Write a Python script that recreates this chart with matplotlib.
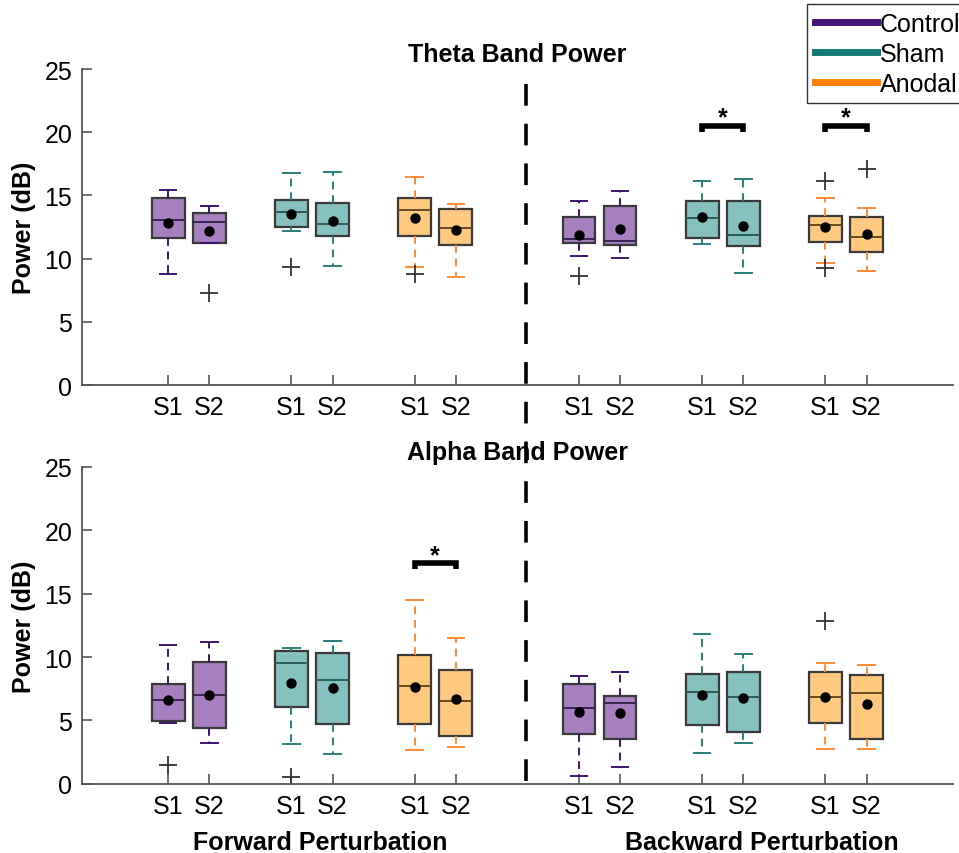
import matplotlib
matplotlib.use('Agg')
import matplotlib.pyplot as plt
from matplotlib.lines import Line2D
from matplotlib.transforms import blended_transform_factory

plt.rcParams['font.family'] = ['Liberation Sans', 'DejaVu Sans']

# box order: Forward (Control S1,S2, Sham S1,S2, Anodal S1,S2), then Backward same
positions = [1, 2, 4, 5, 7, 8, 11, 12, 14, 15, 17, 18]
tick_labels = ['S1', 'S2'] * 6
groups = ['Control', 'Sham', 'Anodal']

# Theta band power (dB)
theta_whishi = [15.46, 14.2, 16.75, 16.88, 16.43, 14.3, 14.54, 15.32, 16.17, 16.32, 14.8, 13.99]
theta_q3 = [14.8, 13.64, 14.64, 14.38, 14.77, 13.93, 13.3, 14.14, 14.54, 14.56, 13.35, 13.28]
theta_med = [13.09, 12.9, 13.7, 12.72, 13.83, 12.42, 11.57, 11.38, 13.25, 11.88, 12.67, 11.7]
theta_q1 = [11.65, 11.25, 12.51, 11.8, 11.78, 11.04, 11.22, 11.07, 11.67, 10.99, 11.33, 10.54]
theta_whislo = [8.8, 11.2, 12.2, 9.39, 9.3, 8.54, 10.17, 10.04, 11.12, 8.88, 9.67, 9.02]
theta_mean = [12.83, 12.22, 13.5, 13.0, 13.2, 12.27, 11.85, 12.33, 13.3, 12.62, 12.49, 11.96]
theta_fliers = [[], [7.31], [9.33], [], [8.78], [], [8.62], [], [], [], [16.17, 9.28], [17.06]]

# Alpha band power (dB)
alpha_whishi = [10.95, 11.2, 10.69, 11.3, 14.52, 11.53, 8.47, 8.81, 11.85, 10.24, 9.5, 9.39]
alpha_q3 = [7.91, 9.6, 10.45, 10.32, 10.19, 9.0, 7.91, 6.93, 8.68, 8.84, 8.81, 8.55]
alpha_med = [6.64, 7.04, 9.5, 8.23, 7.72, 6.56, 6.01, 6.4, 7.28, 6.88, 6.88, 7.14]
alpha_q1 = [4.92, 4.39, 6.08, 4.71, 4.76, 3.76, 3.97, 3.55, 4.68, 4.1, 4.81, 3.52]
alpha_whislo = [4.81, 3.25, 3.12, 2.35, 2.65, 2.94, 0.61, 1.32, 2.41, 3.25, 2.78, 2.78]
alpha_mean = [6.61, 7.01, 7.99, 7.54, 7.67, 6.69, 5.69, 5.56, 7.01, 6.75, 6.85, 6.27]
alpha_fliers = [[1.45], [], [0.53], [], [], [], [], [], [], [], [12.86], []]

# significance brackets: (x1, x2, height)
theta_sig = [(14, 15, 20.5), (17, 18, 20.5)]
alpha_sig = [(7, 8, 17.4)]

face_colors = {'Control': '#a87fc1', 'Sham': '#85c1be', 'Anodal': '#ffc980'}
line_colors = {'Control': '#3d1370', 'Sham': '#2a7e7b', 'Anodal': '#ff8a35'}
median_colors = {'Control': '#3a2450', 'Sham': '#2d5d5b', 'Anodal': '#6a4a1e'}
legend_colors = {'Control': '#461378', 'Sham': '#147a77', 'Anodal': '#ff8000'}


def draw_panel(ax, title, whislo, q1, med, q3, whishi, means, fliers, sig):
    stats = []
    for i in range(len(positions)):
        stats.append({'whislo': whislo[i], 'q1': q1[i], 'med': med[i], 'q3': q3[i],
                      'whishi': whishi[i], 'mean': means[i], 'fliers': fliers[i]})
    bp = ax.bxp(stats, positions=positions, widths=0.8, patch_artist=True,
                showmeans=True, manage_ticks=False,
                meanprops=dict(marker='o', markerfacecolor='black',
                               markeredgecolor='black', markersize=6.5),
                flierprops=dict(marker='+', markeredgecolor='#333333',
                                markersize=13, markeredgewidth=1.3))
    for i in range(len(positions)):
        g = groups[(i // 2) % 3]
        bp['boxes'][i].set_facecolor(face_colors[g])
        bp['boxes'][i].set_edgecolor('#3a3a3a')
        bp['boxes'][i].set_linewidth(1.6)
        bp['medians'][i].set_color(median_colors[g])
        bp['medians'][i].set_linewidth(1.4)
        for w in bp['whiskers'][2 * i:2 * i + 2]:
            w.set_color(line_colors[g])
            w.set_linestyle((0, (4, 3)))
            w.set_linewidth(1.4)
        for c in bp['caps'][2 * i:2 * i + 2]:
            c.set_color(line_colors[g])
            c.set_linewidth(1.4)

    for x1, x2, h in sig:
        ax.plot([x1, x1, x2, x2], [h - 0.45, h, h, h - 0.45], color='black',
                lw=4, solid_joinstyle='miter', solid_capstyle='butt')
        ax.text((x1 + x2) / 2, h - 0.3, '*', ha='center', va='bottom',
                fontsize=18, fontweight='bold')

    ax.set_xlim(-1.1, 20.1)
    ax.set_ylim(0, 25)
    ax.set_yticks([0, 5, 10, 15, 20, 25])
    ax.set_xticks(positions)
    ax.set_xticklabels(tick_labels)
    ax.tick_params(direction='in', length=7, width=1.2, labelsize=18,
                   color='#555555', pad=7)
    ax.spines['top'].set_visible(False)
    ax.spines['right'].set_visible(False)
    for s in ['left', 'bottom']:
        ax.spines[s].set_color('#555555')
        ax.spines[s].set_linewidth(1.3)
    ax.set_ylabel('Power (dB)', fontsize=18, fontweight='bold', labelpad=6)
    ax.set_title(title, fontsize=18, fontweight='bold', pad=6)


fig = plt.figure(figsize=(9.59, 8.54), dpi=100)
ax1 = fig.add_axes([0.0855, 0.548, 0.908, 0.37])
ax2 = fig.add_axes([0.0855, 0.081, 0.908, 0.371])

draw_panel(ax1, 'Theta Band Power', theta_whislo, theta_q1, theta_med, theta_q3,
           theta_whishi, theta_mean, theta_fliers, theta_sig)
draw_panel(ax2, 'Alpha Band Power', alpha_whislo, alpha_q1, alpha_med, alpha_q3,
           alpha_whishi, alpha_mean, alpha_fliers, alpha_sig)

# direction labels under the lower panel
lbl_tr = blended_transform_factory(ax2.transData, fig.transFigure)
ax2.text(4.7, 1 - 843 / 854, 'Forward Perturbation', transform=lbl_tr,
         ha='center', va='center', fontsize=18, fontweight='bold')
ax2.text(15.45, 1 - 843 / 854, 'Backward Perturbation', transform=lbl_tr,
         ha='center', va='center', fontsize=18, fontweight='bold')

# dashed divider across both panels
divider = Line2D([9.7, 9.7], [1 - 85 / 854, 1 - 785 / 854], color='black', lw=2.6,
                 linestyle=(0, (6, 5)),
                 transform=blended_transform_factory(ax1.transData, fig.transFigure))
fig.add_artist(divider)

handles = [Line2D([], [], color=legend_colors[g], lw=5) for g in groups]
fig.legend(handles, groups, loc='upper left', bbox_to_anchor=(807 / 959, 1 - 5 / 854),
           fontsize=18, frameon=True, fancybox=False, edgecolor='#333333',
           framealpha=1, handlelength=2.5, handletextpad=0.1, labelspacing=0.24,
           borderpad=0.3, borderaxespad=0)

fig.savefig('out.png', dpi=100)
